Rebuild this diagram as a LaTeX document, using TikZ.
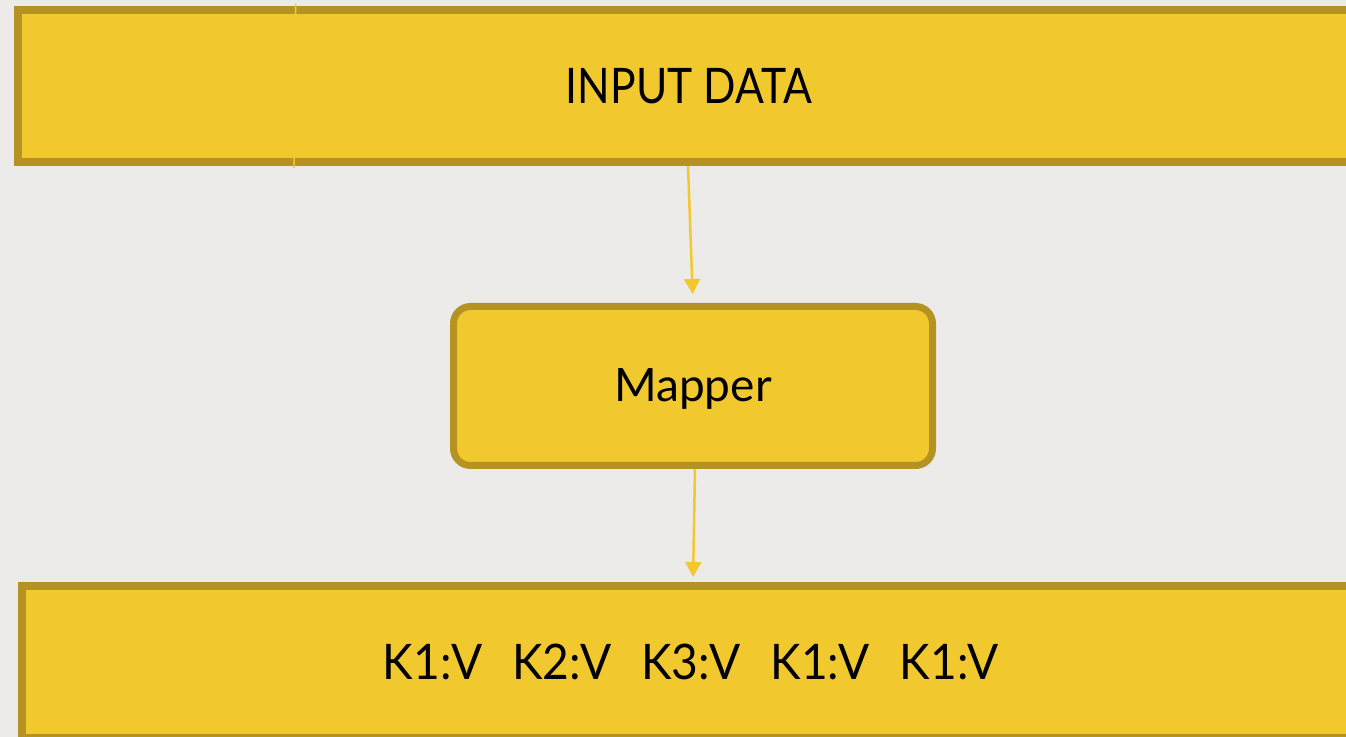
\documentclass[tikz,border=0pt]{standalone}
\usepackage{fontspec}
\setmainfont{Lato}
\usetikzlibrary{arrows.meta}
\definecolor{bgc}{HTML}{ECEBE9}
\definecolor{boxfill}{HTML}{F2C82F}
\definecolor{boxedge}{HTML}{B59322}
\tikzset{
  px/.style={x=0.5pt,y=-0.5pt},
  wide/.style={rectangle,draw=boxedge,fill=boxfill,line width=4pt,inner sep=0pt,font=\fontsize{24.5}{28}\selectfont},
  mapbox/.style={rectangle,rounded corners=8.5pt,draw=boxedge,fill=boxfill,line width=3.5pt,inner sep=0pt,font=\fontsize{23}{27}\selectfont},
  flow/.style={draw=boxfill,line width=1.25pt,-{Triangle[width=8pt,length=7.5pt]}},
}
\newcommand{\kvgap}{\hspace{15pt}}
\begin{document}
\begin{tikzpicture}[px]
\fill[bgc] (0,0) rectangle (1346,737);
\useasboundingbox (0,0) rectangle (1346,737);
\node[wide,minimum width=671pt,minimum height=76pt] (inputbox) at (689,86) {\scalebox{0.87}[1]{INPUT DATA}};
\node[mapbox,minimum width=239.5pt,minimum height=79.5pt] (mapper) at (693,386) {\raisebox{-8pt}[0pt][0pt]{Mapper}};
\node[wide,minimum width=669pt,minimum height=76pt] (outbox) at (691,662) {\scalebox{0.94}[1]{K1:V}\kvgap\scalebox{0.94}[1]{K2:V}\kvgap\scalebox{0.94}[1]{K3:V}\kvgap\scalebox{0.94}[1]{K1:V}\kvgap\scalebox{0.94}[1]{K1:V}};
\coordinate (seamtop) at (295.7,4);
\coordinate (seambot) at (294,168);
\draw[boxfill,line width=0.75pt] (seamtop) -- (seambot);
\draw[flow,shorten >=4.5pt] ([xshift=-0.5pt]inputbox.south) -- ([xshift=0pt]mapper.north);
\draw[flow,shorten >=2.5pt] ([xshift=1pt]mapper.south) -- ([xshift=1pt]outbox.north);
\end{tikzpicture}
\end{document}
